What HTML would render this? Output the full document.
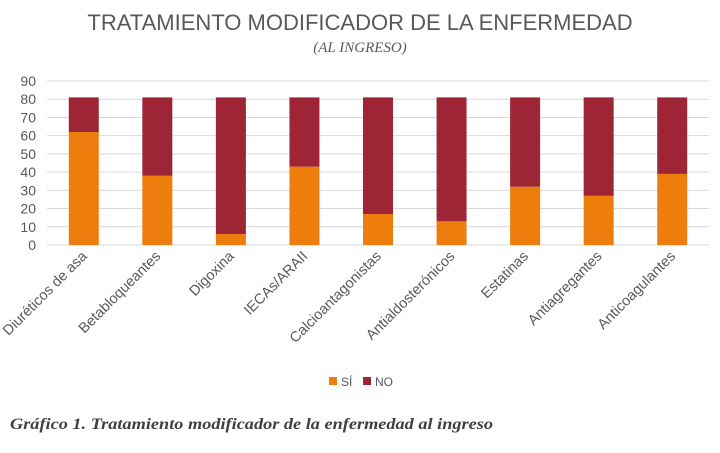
<!DOCTYPE html>
<html><head><meta charset="utf-8"><style>
body{margin:0;background:#fff;width:720px;height:453px;overflow:hidden}
svg{display:block}
</style></head><body>
<svg width="720" height="453">
<text x="360" y="30" text-anchor="middle" font-family="Liberation Sans, sans-serif" font-size="22" fill="#595959">TRATAMIENTO MODIFICADOR DE LA ENFERMEDAD</text>
<text x="360" y="52" text-anchor="middle" font-family="Liberation Serif, serif" font-style="italic" font-size="15" fill="#595959">(AL INGRESO)</text>
<g id="grid"></g><g id="bars"></g><g id="labels"></g>
<g>
<rect x="329" y="377" width="8" height="8" fill="#ED7D0C"/>
<text x="341" y="386" font-family="Liberation Sans, sans-serif" font-size="12" fill="#595959">SÍ</text>
<rect x="363" y="377" width="8" height="8" fill="#9E2535"/>
<text x="375" y="386" font-family="Liberation Sans, sans-serif" font-size="12" fill="#595959">NO</text>
</g>
<text x="10" y="429" font-family="Liberation Serif, serif" font-style="italic" font-weight="bold" font-size="16" fill="#404040" textLength="483" lengthAdjust="spacingAndGlyphs">Gráfico 1. Tratamiento modificador de la enfermedad al ingreso</text>
</svg>
<script>
const categories=["Diuréticos de asa","Betabloqueantes","Digoxina","IECAs/ARAII","Calcioantagonistas","Antialdosterónicos","Estatinas","Antiagregantes","Anticoagulantes"];
const siValues=[62,38,6,43,17,13,32,27,39];
const noValues=[19,43,75,38,64,68,49,54,42];
const yTicks=[0,10,20,30,40,50,60,70,80,90];
const NS="http://www.w3.org/2000/svg";
const x0=47,x1=709,yb=245,yt=81,ymax=90;
const y=v=>yb-(v/ymax)*(yb-yt);
const band=(x1-x0)/categories.length;
const cx=i=>x0+band*(i+0.5);
function mk(tag,attrs,parent){const e=document.createElementNS(NS,tag);for(const k in attrs)e.setAttribute(k,attrs[k]);parent.appendChild(e);return e;}
const g=document.getElementById('grid'),b=document.getElementById('bars'),l=document.getElementById('labels');
yTicks.forEach(t=>{
 const ln=mk('line',{x1:x0,x2:x1,y1:y(t),y2:y(t),stroke:'#d9d9d9','stroke-width':1},g);
 
 
 const tx=mk('text',{x:36,y:y(t)+5,'text-anchor':'end','font-family':'Liberation Sans, sans-serif','font-size':14,fill:'#595959'},g);
 tx.textContent=t;
 
 
});
categories.forEach((c,i)=>{
 const w=30,xl=cx(i)-w/2;
 const s=mk('rect',{x:xl,y:y(siValues[i]),width:w,height:yb-y(siValues[i]),fill:'#ED7D0C'},b);
 
 
 const top=siValues[i]+noValues[i];
 const n=mk('rect',{x:xl,y:y(top),width:w,height:y(siValues[i])-y(top),fill:'#9E2535'},b);
 
 
 const tx=mk('text',{x:cx(i)+4,y:257,'text-anchor':'end','font-family':'Liberation Sans, sans-serif','font-size':14.5,fill:'#595959',transform:`rotate(-45 ${cx(i)+4} 257)`},l);
 tx.textContent=c;
 
 
});
</script>
</body></html>
